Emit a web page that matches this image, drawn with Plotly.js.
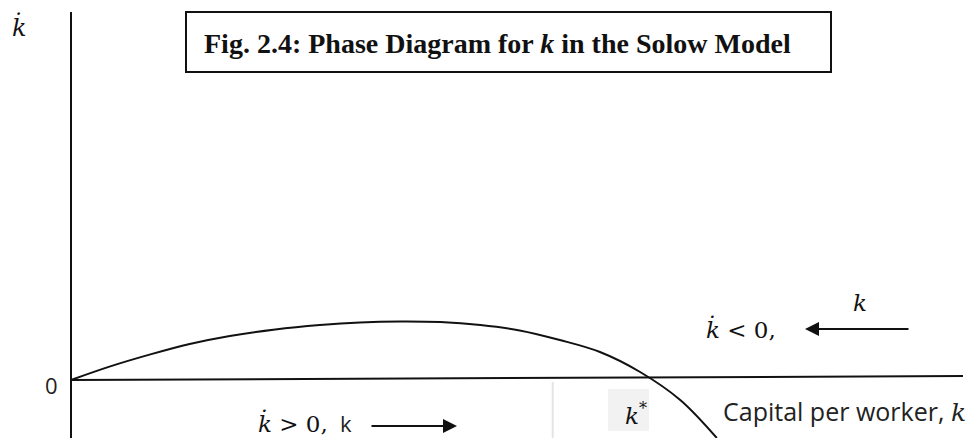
<!DOCTYPE html>
<html>
<head>
<meta charset="utf-8">
<script src="https://cdn.plot.ly/plotly-3.0.1.min.js"></script>
<style>
  html, body { margin: 0; padding: 0; background: #ffffff; }
  #chart { width: 969px; height: 438px; }
</style>
</head>
<body>
<div id="chart"></div>
<script>
// Solow phase curve: k-dot = s f(k) - (n + delta) k, as sample points
const capitalK = [0, 0.44, 0.89, 1.33, 1.78, 2.29, 2.79, 3.24, 3.69, 4.14, 4.59, 5.03, 5.48, 5.93, 6.38, 6.83, 7.24];
const kDot     = [0, 0.68, 1.28, 1.8, 2.2, 2.53, 2.75, 2.88, 2.93, 2.9, 2.75, 2.48, 2.0, 1.4, 0.4, -1.0, -2.9];

// horizontal axis (k-dot = 0 line) and vertical axis end points
const horizAxisK = [0, 10];
const horizAxisY = [0, 0.2];
const vertAxisK = [0, 0];
const vertAxisY = [-2.9, 18.4];

// faint guide under the steady state
const steadyGuideK = [5.4, 5.4];
const steadyGuideY = [-0.1, -2.9];

const W = 969, H = 438;
const px = x => x / W;
const py = y => 1 - y / H;

const mathFont = { family: 'DejaVu Serif', size: 23, color: '#111111' };
const sansFont = { family: 'Open Sans, Liberation Sans, sans-serif', size: 22, color: '#222222' };

const traces = [
  { x: horizAxisK, y: horizAxisY, mode: 'lines', line: { color: '#111111', width: 2 }, hoverinfo: 'skip' },
  { x: vertAxisK, y: vertAxisY, mode: 'lines', line: { color: '#111111', width: 2 }, hoverinfo: 'skip' },
  { x: steadyGuideK, y: steadyGuideY, mode: 'lines', line: { color: '#e4e4e4', width: 2 }, hoverinfo: 'skip' },
  { x: capitalK, y: kDot, mode: 'lines', line: { color: '#111111', width: 2, shape: 'spline', smoothing: 1 }, hoverinfo: 'skip' }
];

const layout = {
  width: W, height: H,
  margin: { l: 0, r: 0, t: 0, b: 0 },
  paper_bgcolor: '#ffffff', plot_bgcolor: '#ffffff',
  showlegend: false,
  xaxis: { range: [-71 / 89.2, (W - 71) / 89.2], visible: false, fixedrange: true },
  yaxis: { range: [-2.9, 19], visible: false, fixedrange: true },
  shapes: [
    // title frame
    { type: 'rect', xref: 'paper', yref: 'paper', x0: px(186), x1: px(831), y0: py(12), y1: py(72),
      line: { color: '#111111', width: 2 }, fillcolor: 'rgba(0,0,0,0)' },
    // shaded box behind k*
    { type: 'rect', xref: 'paper', yref: 'paper', x0: px(608), x1: px(649), y0: py(389), y1: py(431),
      line: { width: 0 }, fillcolor: '#f2f2f2', layer: 'below' }
  ],
  annotations: [
    { xref: 'paper', yref: 'paper', x: px(202), y: py(43), xanchor: 'left', yanchor: 'middle', showarrow: false,
      text: '<b>Fig. 2.4: Phase Diagram for <i>k</i> in the Solow Model</b>',
      font: { family: 'Liberation Serif, Times New Roman, serif', size: 28, color: '#111111' } },
    { xref: 'paper', yref: 'paper', x: px(19), y: py(27), xanchor: 'center', yanchor: 'middle', showarrow: false,
      text: '<i>k\u0307</i>', font: { family: 'DejaVu Serif', size: 24, color: '#111111' } },
    { xref: 'paper', yref: 'paper', x: px(51), y: py(385), xanchor: 'center', yanchor: 'middle', showarrow: false,
      text: '0', font: sansFont },
    { xref: 'paper', yref: 'paper', x: px(256), y: py(423), xanchor: 'left', yanchor: 'middle', showarrow: false,
      text: '<i>k\u0307</i> &gt; 0,', font: mathFont },
    { xref: 'paper', yref: 'paper', x: px(338), y: py(423), xanchor: 'left', yanchor: 'middle', showarrow: false,
      text: 'k', font: sansFont },
    { xref: 'paper', yref: 'paper', x: px(704), y: py(329), xanchor: 'left', yanchor: 'middle', showarrow: false,
      text: '<i>k\u0307</i> &lt; 0,', font: mathFont },
    { xref: 'paper', yref: 'paper', x: px(860), y: py(303), xanchor: 'center', yanchor: 'middle', showarrow: false,
      text: '<i>k</i>', font: mathFont },
    { xref: 'paper', yref: 'paper', x: px(636), y: py(414), xanchor: 'center', yanchor: 'middle', showarrow: false,
      text: '<i>k</i><sup>*</sup>', font: mathFont },
    { xref: 'paper', yref: 'paper', x: px(968), y: py(411), xanchor: 'right', yanchor: 'middle', showarrow: false,
      text: 'Capital per worker, <i><span style="font-family:DejaVu Serif">k</span></i>',
      font: { family: 'Open Sans, Liberation Sans, sans-serif', size: 25, color: '#222222' } },
    // direction arrows
    { xref: 'paper', yref: 'paper', axref: 'paper', ayref: 'paper',
      x: px(457), y: py(426), ax: px(370), ay: py(426), text: '', showarrow: true,
      arrowhead: 2, arrowsize: 1.4, arrowwidth: 2, arrowcolor: '#111111' },
    { xref: 'paper', yref: 'paper', axref: 'paper', ayref: 'paper',
      x: px(805), y: py(329), ax: px(910), ay: py(329), text: '', showarrow: true,
      arrowhead: 2, arrowsize: 1.4, arrowwidth: 2, arrowcolor: '#111111' }
  ]
};

Plotly.newPlot('chart', traces, layout, { staticPlot: true, displayModeBar: false });
</script>
</body>
</html>
